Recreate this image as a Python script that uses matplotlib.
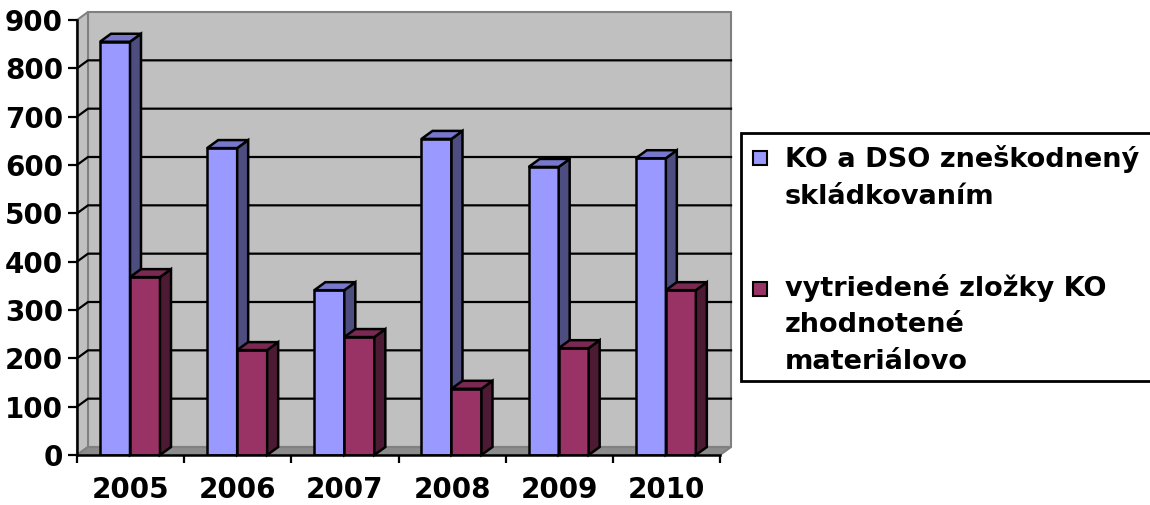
import matplotlib.pyplot as plt
from matplotlib.patches import Polygon, Rectangle

plt.rcParams['font.family'] = ['DejaVu Sans']
plt.rcParams['font.weight'] = 'bold'

years = ['2005', '2006', '2007', '2008', '2009', '2010']
skladkovanie = [855, 635, 341, 654, 596, 614]
zhodnotene = [368, 217, 244, 137, 221, 341]
labels = ['KO a DSO zneškodnený\nskládkovaním',
          'vytriedené zložky KO\nzhodnotené\nmateriálovo']
yticks = [0, 100, 200, 300, 400, 500, 600, 700, 800, 900]

face = ['#9999FF', '#993366']
side = ['#4D4D80', '#4D1A33']
top = ['#7777CC', '#7A2952']

W, H = 1150, 505
fig = plt.figure(figsize=(W / 100, H / 100), dpi=100)
left, right, bottom, topy = 77, 720, 455, 20
ax = fig.add_axes([left / W, (H - bottom) / H, (right - left) / W, (bottom - topy) / H])
n = len(years)
ymax = 900
ax.set_xlim(0, n)
ax.set_ylim(0, ymax)

# pixel -> data
px = n / (right - left)
py = ymax / (bottom - topy)
DX, DY = 11 * px, 8 * py

# walls and floor
wall = Polygon([(DX, DY), (n + DX, DY), (n + DX, ymax + DY), (DX, ymax + DY)],
               fc='#C0C0C0', ec='#808080', lw=1.5, clip_on=False, zorder=0)
sidewall = Polygon([(0, 0), (DX, DY), (DX, ymax + DY), (0, ymax)],
                   fc='#C0C0C0', ec='#808080', lw=1.5, clip_on=False, zorder=0)
floor = Polygon([(0, 0), (n, 0), (n + DX, DY), (DX, DY)],
                fc='#8C8C8C', ec='#808080', lw=1.5, clip_on=False, zorder=0.5)
for p in (wall, sidewall, floor):
    ax.add_patch(p)

for v in yticks[1:-1]:
    ax.plot([0, DX, n + DX], [v, v + DY, v + DY], color='black', lw=1.6,
            clip_on=False, zorder=1)

# 3d bars
bw = 30 * px
off = 23 * px
z = 2
for i in range(n):
    for s, vals in enumerate([skladkovanie, zhodnotene]):
        x = i + off + s * bw
        h = vals[i]
        ax.bar(x, h, width=bw, align='edge', color=face[s], edgecolor='black',
               lw=1.8, zorder=z)
        ax.add_patch(Polygon([(x + bw, 0), (x + bw + DX, DY), (x + bw + DX, h + DY), (x + bw, h)],
                             fc=side[s], ec='black', lw=1.8, zorder=z, clip_on=False))
        ax.add_patch(Polygon([(x, h), (x + bw, h), (x + bw + DX, h + DY), (x + DX, h + DY)],
                             fc=top[s], ec='black', lw=1.8, zorder=z, clip_on=False))
        z += 1

for sp in ['top', 'right']:
    ax.spines[sp].set_visible(False)
for sp in ['left', 'bottom']:
    ax.spines[sp].set_linewidth(1.8)
    ax.spines[sp].set_zorder(50)
ax.patch.set_visible(False)

ax.set_yticks(yticks)
ax.set_yticklabels([str(v) for v in yticks], fontsize=20, fontweight='bold')
ax.tick_params(axis='y', length=6.5, width=1.6, pad=3.5)
ax.set_xticks(range(n + 1))
ax.set_xticklabels([])
ax.tick_params(axis='x', which='major', length=6, width=1.6)
ax.set_xticks([i + 0.5 for i in range(n)], minor=True)
ax.set_xticklabels(years, minor=True, fontsize=20, fontweight='bold')
ax.tick_params(axis='x', which='minor', length=0, pad=15)

# legend drawn in pixel space
lg = fig.add_axes([0, 0, 1, 1], zorder=100)
lg.set_xlim(0, W)
lg.set_ylim(H, 0)
lg.axis('off')
lg.add_patch(Rectangle((741, 133), 430, 248, fc='white', ec='black', lw=2))
entries = [(151, 167), (282, 296)]
for s, (sq_y, base) in enumerate(entries):
    lg.add_patch(Rectangle((753, sq_y), 14, 14, fc=face[s], ec='black', lw=1.5))
    for k, line in enumerate(labels[s].split('\n')):
        lg.text(785, base + k * 36.5, line, fontsize=19.5, fontweight='bold',
                va='baseline', ha='left')

fig.savefig('out.png', dpi=100)
